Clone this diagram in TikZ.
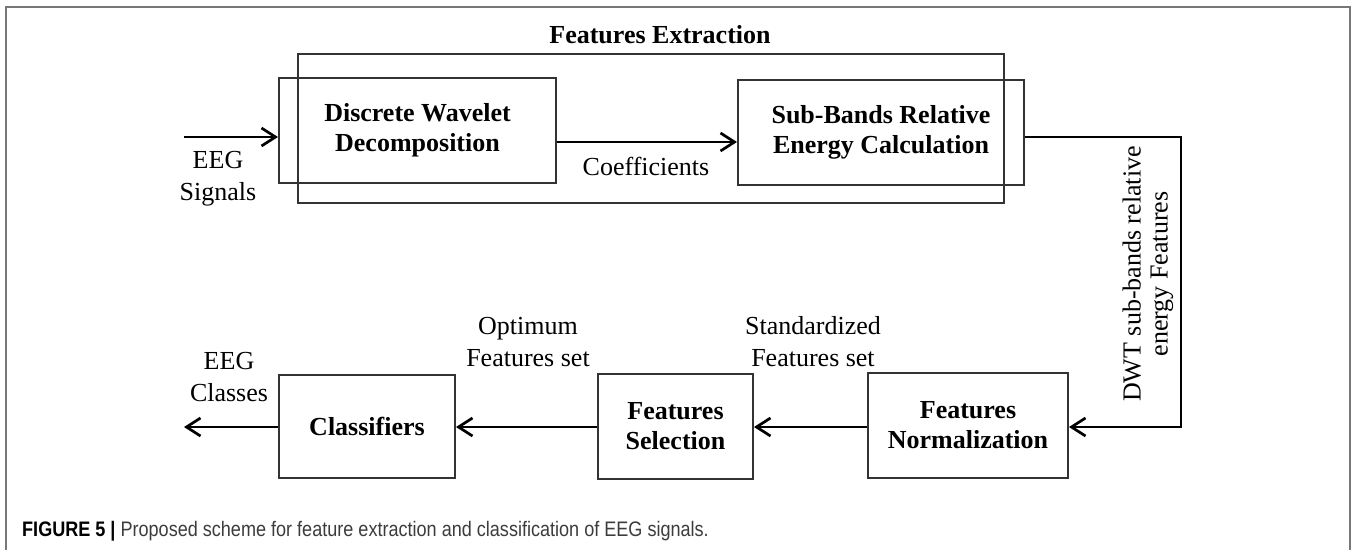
\documentclass[tikz,border=0pt]{standalone}
\usepackage{fontspec}
\setmainfont{Liberation Serif}
\newfontfamily\capfont[FakeStretch=0.86]{Liberation Sans}
\usetikzlibrary{arrows.meta,calc}
\definecolor{boxgray}{HTML}{333333}
\definecolor{framegray}{HTML}{777777}
\definecolor{capgray}{HTML}{3C3C3C}
\begin{document}
\begin{tikzpicture}[x=1pt,y=-1pt,
  box/.style={draw=boxgray,line width=2pt,inner sep=0pt,align=center,
    font=\bfseries\fontsize{26}{30}\selectfont},
  grp/.style={draw=boxgray,line width=2pt,inner sep=0pt},
  lbl/.style={inner sep=0pt,align=center,font=\fontsize{26}{32}\selectfont},
  ttl/.style={inner sep=0pt,font=\bfseries\fontsize{26}{30}\selectfont},
  arr/.style={draw=black,line width=2.7pt,-{Straight Barb[length=14pt,width=18pt]}},
  frm/.style={draw=framegray,line width=1.5pt},
  captxt/.style={inner sep=0pt,anchor=base west,font=\capfont\fontsize{21}{25}\selectfont,text=capgray}
]
\useasboundingbox (0,0) rectangle (1357,550);
% outer frame
\draw[frm] (6,550) -- (6,7) -- (1350,7) -- (1350,550);

% features extraction group
\node[grp,minimum width=706pt,minimum height=149pt] (fe) at (651,128.5) {};
\node[ttl,anchor=base] (title) at (660,43) {Features Extraction};

% top row boxes
\node[box,minimum width=277pt,minimum height=105pt] (dwd) at (417.5,130.5) {Discrete Wavelet\\Decomposition};
\node[box,minimum width=286pt,minimum height=105pt] (sub) at (881,132.5) {Sub-Bands Relative\\Energy Calculation};

% bottom row boxes
\node[box,minimum width=176pt,minimum height=103pt] (cls) at (367,426.5) {Classifiers};
\node[box,minimum width=155pt,minimum height=105pt] (sel) at (675.5,426.5) {Features\\Selection};
\node[box,minimum width=200pt,minimum height=105pt] (norm) at (968,425.5) {Features\\Normalization};

% labels
\node[lbl] (eegin) at (218,179) {EEG\\Signals};
\node[lbl,anchor=base] (coef) at (646,175) {Coefficients};
\node[lbl] (eegout) at (229,377) {EEG\\Classes};
\node[lbl] (opt) at (528,342) {Optimum\\Features set};
\node[lbl] (std) at (813,342) {Standardized\\Features set};
\node[lbl,rotate=90,font=\fontsize{26}{27}\selectfont] (dwt) at (1148,274) {DWT sub-bands relative\\energy Features};

% connectors
\coordinate (inS) at (184,137);
\coordinate (c2) at (1181,427);
\coordinate (outE) at (184,427);
\draw[arr] (inS) -- (inS -| dwd.west);
\draw[arr] ([yshift=-11.5pt]dwd.east) -- ([yshift=-11.5pt]dwd.east -| sub.west);
\draw[arr] ([yshift=-4.5pt]sub.east) -| (c2) -- (c2 -| norm.east);
\draw[arr] (c2 -| norm.west) -- (c2 -| sel.east);
\draw[arr] (c2 -| sel.west) -- (c2 -| cls.east);
\draw[arr] (outE -| cls.west) -- (outE);

% caption
\node[captxt] (caption) at (22,536) {\textbf{\color{black}FIGURE 5 |} Proposed scheme for feature extraction and classification of EEG signals.};
\end{tikzpicture}
\end{document}
